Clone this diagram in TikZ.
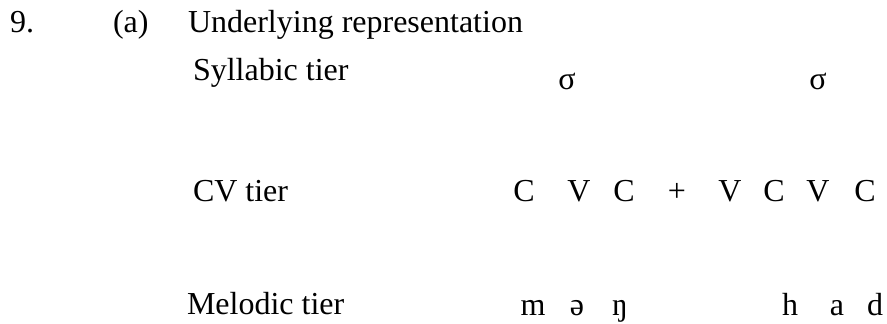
\documentclass[tikz,border=0pt]{standalone}
\usepackage{fontspec}
\setmainfont{Liberation Serif}
\begin{document}
\begin{tikzpicture}[x=1pt,y=-1pt,
  txt/.style={inner sep=0pt,outer sep=0pt,anchor=base west,font=\fontsize{32}{38}\selectfont},
  seg/.style={inner sep=0pt,outer sep=0pt,anchor=base,font=\fontsize{32}{38}\selectfont}]
\useasboundingbox (0,0) rectangle (887,324);
\node[txt] (num) at (10,32) {9.};
\node[txt] (lab) at (113,32) {(a)};
\node[txt] (title) at (188,32) {Underlying representation};
\node[txt] (syl) at (193,80) {Syllabic tier};
\node[seg] (s1) at (567,89) {σ};
\node[seg] (s2) at (818,89) {σ};
\node[txt] (cv) at (193,201) {CV tier};
\node[seg] (c1) at (524,201) {C};
\node[seg] (v1) at (579,201) {V};
\node[seg] (c2) at (624,201) {C};
\node[seg] (plus) at (677,201) {+};
\node[seg] (v2) at (730,201) {V};
\node[seg] (c3) at (774,201) {C};
\node[seg] (v3) at (818,201) {V};
\node[seg] (c4) at (865,201) {C};
\node[txt] (mel) at (187,314) {Melodic tier};
\node[seg] (m) at (533,315) {m};
\node[seg] (schwa) at (577,315) {ə};
\node[seg] (eng) at (620,315) {ŋ};
\node[seg] (h) at (790,315) {h};
\node[seg] (a) at (837,315) {a};
\node[seg] (d) at (875,315) {d};
\end{tikzpicture}
\end{document}
